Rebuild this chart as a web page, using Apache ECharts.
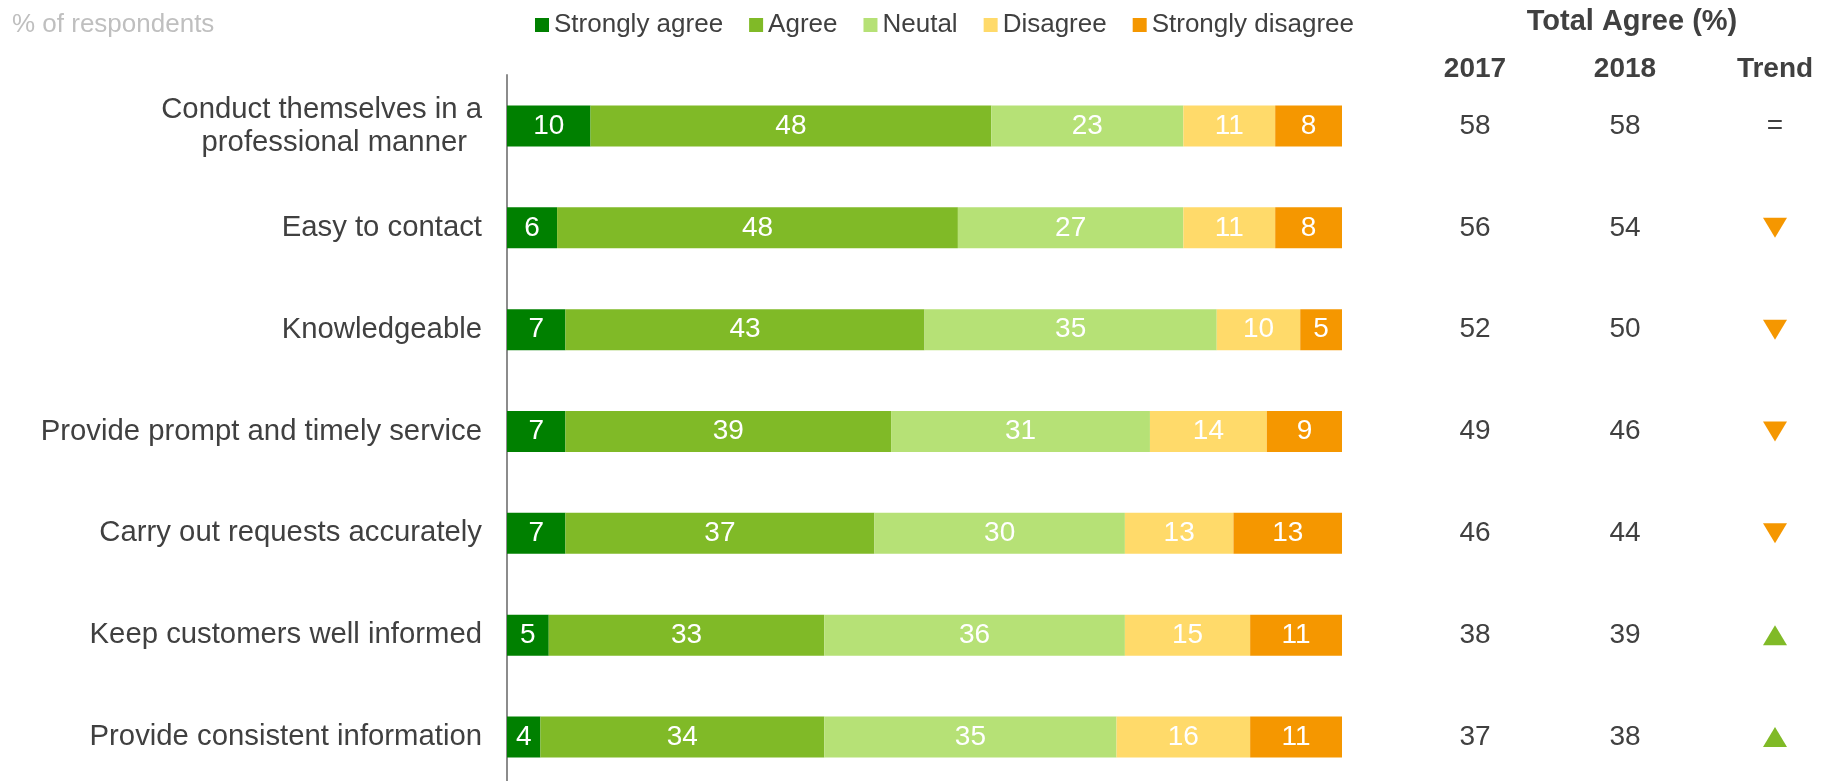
<!DOCTYPE html>
<html>
<head>
<meta charset="utf-8">
<script src="https://cdn.jsdelivr.net/npm/echarts@6/dist/echarts.min.js"></script>
<style>
html,body{margin:0;padding:0;background:#fff}
#chart{width:1834px;height:781px}
</style>
</head>
<body>
<div id="chart"></div>
<script>
// rows, top to bottom
categories=['Conduct themselves in a\nprofessional manner','Easy to contact','Knowledgeable','Provide prompt and timely service','Carry out requests accurately','Keep customers well informed','Provide consistent information']
seriesNames=['Strongly agree','Agree','Neutal','Disagree','Strongly disagree']
stronglyAgree=[10,6,7,7,7,5,4]
agree=[48,48,43,39,37,33,34]
neutral=[23,27,35,31,30,36,35]
disagree=[11,11,10,14,13,15,16]
stronglyDisagree=[8,8,5,9,13,11,11]
// total agree table
tableHeads=['2017','2018','Trend']
agree2017=[58,56,52,49,46,38,37]
agree2018=[58,54,50,46,44,39,38]
trend=['=','down','down','down','down','up','up']

colors=['#008000','#80BA27','#B6E176','#FFDA6A','#F59700']
let font='"Liberation Sans", Arial, sans-serif'
let txt='#404040'

let chart=echarts.init(document.getElementById('chart'))

let barData=[stronglyAgree,agree,neutral,disagree,stronglyDisagree]
let bars=barData.map(function(d,i){
    return {
        name: seriesNames[i],
        type: 'bar',
        stack: 'total',
        barWidth: 41,
        xAxisIndex: 0,
        yAxisIndex: 0,
        itemStyle: {color: colors[i]},
        label: {show: true, position: 'inside', color: '#fff', fontSize: 28, fontFamily: font},
        data: d
    }
})

// table columns drawn on a second grid sharing the row positions
function textCol(col, vals){
    return {
        type: 'scatter',
        xAxisIndex: 1,
        yAxisIndex: 1,
        symbolSize: 10,
        itemStyle: {color: 'transparent', opacity: 1},
        silent: true,
        label: {show: true, position: 'inside', color: txt, fontSize: 28, fontFamily: font,
            formatter: function(p){ return vals[p.dataIndex] }},
        data: vals.map(function(v,i){ return [col,i] })
    }
}
let trendSeries={
    type: 'scatter',
    xAxisIndex: 1,
    yAxisIndex: 1,
    silent: true,
    itemStyle: {opacity: 1},
    data: trend.map(function(t,i){
        if(t==='up') return {value:[2,i], symbol:'triangle', symbolSize:[24,20], itemStyle:{color:'#80BA27', opacity:1}}
        if(t==='down') return {value:[2,i], symbol:'triangle', symbolSize:[24,20], symbolRotate:180, itemStyle:{color:'#F59700', opacity:1}}
        return {value:[2,i], symbolSize:10, itemStyle:{color:'transparent'},
            label:{show:true, position:'inside', formatter:'=', color:txt, fontSize:28, fontFamily:font}}
    })
}

chart.setOption({
    animation: false,
    textStyle: {fontFamily: font},
    legend: {
        left: 530,
        top: 7,
        icon: 'rect',
        itemWidth: 14,
        itemHeight: 14,
        itemGap: 26,
        data: seriesNames,
        textStyle: {color: txt, fontSize: 26, fontFamily: font}
    },
    graphic: [
        {type:'text', left: 12, top: 12, style:{text:'% of respondents', fill:'#BFBFBF', font:'26px "Liberation Sans", Arial'}},
        {type:'text', x: 1632, y: 22, style:{text:'Total Agree (%)', fill:txt, font:'bold 29px "Liberation Sans", Arial', align:'center', verticalAlign:'middle'}}
    ],
    grid: [
        {left: 507, right: 492, top: 75, height: 713, outerBoundsMode: 'none'},
        {left: 1475, right: 59, top: 75, height: 713, outerBoundsMode: 'none'}
    ],
    xAxis: [
        {type:'value', gridIndex:0, min:0, max:100, show:false},
        {type:'value', gridIndex:1, min:0, max:2, interval:1, position:'top',
            axisLine:{show:false}, axisTick:{show:false}, splitLine:{show:false},
            axisLabel:{margin:6, verticalAlign:'middle', color:txt, fontSize:28, fontWeight:'bold', fontFamily:font,
                formatter:function(v){ return tableHeads[v] }}}
    ],
    yAxis: [
        {type:'category', gridIndex:0, inverse:true, data:categories,
            axisLine:{lineStyle:{color:'#8C8C8C', width:2}}, axisTick:{show:false},
            axisLabel:{margin:25, color:txt, fontSize:29.3, fontFamily:font,
                formatter:function(v){
                    if(v.indexOf('\n')<0) return v
                    let parts=v.split('\n')
                    return '{a|'+parts[0]+'}\n{b|'+parts[1]+'}'
                },
                rich:{
                    a:{color:txt, fontSize:29.3, fontFamily:font, lineHeight:33},
                    b:{color:txt, fontSize:29.3, fontFamily:font, lineHeight:33, padding:[0,15,0,0]}
                }}},
        {type:'category', gridIndex:1, inverse:true, data:categories, show:false}
    ],
    series: bars.concat([textCol(0,agree2017), textCol(1,agree2018), trendSeries])
})
</script>
</body>
</html>
